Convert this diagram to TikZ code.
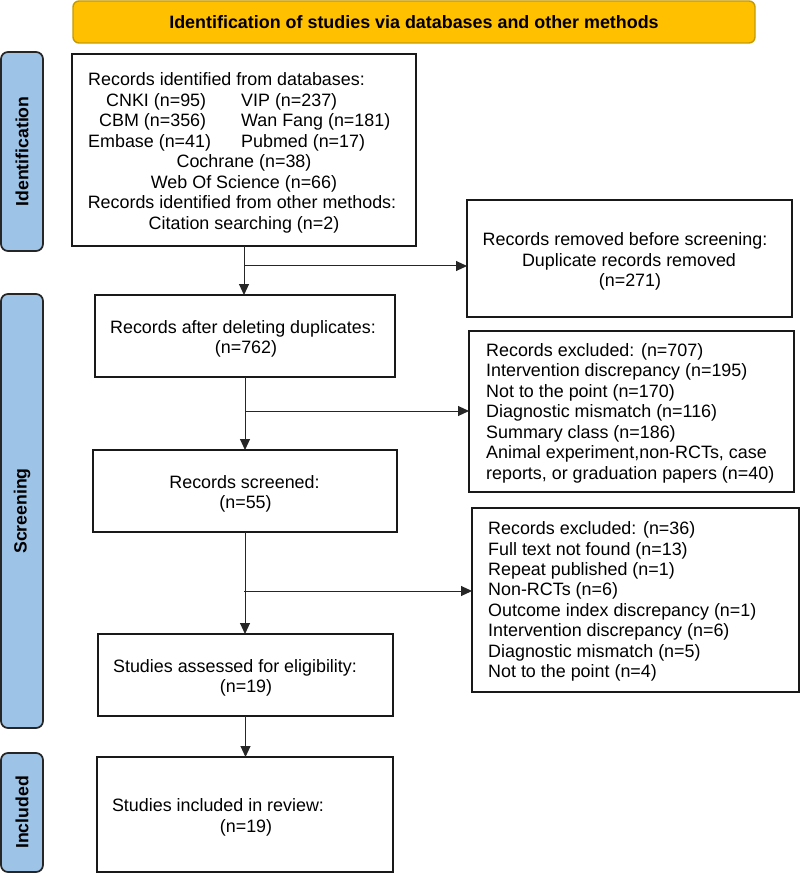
\documentclass[tikz,border=0pt]{standalone}
\usepackage{fontspec}
\setmainfont{Liberation Sans}
\usetikzlibrary{arrows.meta,calc}
\definecolor{sideblue}{HTML}{9DC3E6}
\definecolor{bannerfill}{HTML}{FFC000}
\definecolor{bannerdraw}{HTML}{C49A00}
\begin{document}
\begin{tikzpicture}[x=1pt,y=-1pt,
  box/.style={draw=black!90, line width=1.7pt, inner sep=0pt, outer sep=0pt},
  side/.style={draw=black!85, fill=sideblue, line width=1.7pt, rounded corners=7pt, inner sep=0pt, rotate=90, font=\fontsize{17.7}{20}\selectfont\bfseries},
  txt/.style={font=\fontsize{17.9}{20.5}\selectfont, inner sep=0pt, anchor=base},
  ltxt/.style={txt, anchor=base west},
  conn/.style={line width=1pt, draw=black!85, -{Triangle[length=11pt,width=10pt]}}]
\useasboundingbox (0,0) rectangle (800,874);

% banner
\node[draw=bannerdraw, fill=bannerfill, line width=1.4pt, rounded corners=6pt,
  minimum width=682pt, minimum height=42pt, inner sep=0pt,
  font=\fontsize{17.9}{20}\selectfont\bfseries] (banner) at (414,22)
  {Identification of studies via databases and other methods};

% side labels
\node[side, minimum width=199pt, minimum height=42pt] (sid) at (22,151.5) {Identification};
\node[side, minimum width=434pt, minimum height=42pt] (sscr) at (22,511) {Screening};
\node[side, minimum width=119pt, minimum height=42pt] (sinc) at (22,812.5) {Included};

% boxes
\node[box, minimum width=344pt, minimum height=192pt] (b1) at (244,150) {};
\node[box, minimum width=325pt, minimum height=117pt] (rem) at (629.5,258.5) {};
\node[box, minimum width=300pt, minimum height=82pt] (b2) at (245,336) {};
\node[box, minimum width=325pt, minimum height=161pt] (ex1) at (631.5,411.5) {};
\node[box, minimum width=304pt, minimum height=82pt] (b3) at (245,491) {};
\node[box, minimum width=327pt, minimum height=184pt] (ex2) at (635.5,600) {};
\node[box, minimum width=295pt, minimum height=82pt] (b4) at (245.5,675) {};
\node[box, minimum width=296pt, minimum height=115pt] (b5) at (245,814.5) {};

% box 1 text
\node[ltxt] (t1a) at (88,86) {Records identified from databases:};
\node[ltxt] (t1b) at (106,106.5) {CNKI (n=95)};
\node[ltxt] (t1c) at (241,106.5) {VIP (n=237)};
\node[ltxt] (t1d) at (99,127) {CBM (n=356)};
\node[ltxt] (t1e) at (241,127) {Wan Fang (n=181)};
\node[ltxt] (t1f) at (88,147.5) {Embase (n=41)};
\node[ltxt] (t1g) at (241,147.5) {Pubmed (n=17)};
\node[txt] (t1h) at (244,168) {Cochrane (n=38)};
\node[txt] (t1i) at (244,188.5) {Web Of Science (n=66)};
\node[txt] (t1j) at (242,209) {Records identified from other methods:};
\node[txt] (t1k) at (244,229.5) {Citation searching (n=2)};

% removed text
\node[txt] (tra) at (625,246) {Records removed before screening:};
\node[txt] (trb) at (629,266.5) {Duplicate records removed};
\node[txt] (trc) at (630,287) {(n=271)};

% box 2, 3 text
\node[txt] (t2a) at (243,333) {Records after deleting duplicates:};
\node[txt] (t2b) at (246,353.5) {(n=762)};
\node[txt] (t3a) at (244.5,488) {Records screened:};
\node[txt] (t3b) at (245.5,508.5) {(n=55)};

% excluded 1
\node[ltxt] (e1a) at (486,356) {Records excluded: (n=707)};
\node[ltxt] (e1b) at (486,376.5) {Intervention discrepancy (n=195)};
\node[ltxt] (e1c) at (486,397) {Not to the point (n=170)};
\node[ltxt] (e1d) at (486,417.5) {Diagnostic mismatch (n=116)};
\node[ltxt] (e1e) at (486,438) {Summary class (n=186)};
\node[ltxt] (e1f) at (486,458.5) {Animal experiment,non-RCTs, case};
\node[ltxt] (e1g) at (486,479) {reports, or graduation papers (n=40)};

% excluded 2
\node[ltxt] (e2a) at (488,534.5) {Records excluded: (n=36)};
\node[ltxt] (e2b) at (488,555) {Full text not found (n=13)};
\node[ltxt] (e2c) at (488,575.4) {Repeat published (n=1)};
\node[ltxt] (e2d) at (488,595.8) {Non-RCTs (n=6)};
\node[ltxt] (e2e) at (488,616.2) {Outcome index discrepancy (n=1)};
\node[ltxt] (e2f) at (488,636.6) {Intervention discrepancy (n=6)};
\node[ltxt] (e2g) at (488,657) {Diagnostic mismatch (n=5)};
\node[ltxt] (e2h) at (488,677.4) {Not to the point (n=4)};

% box 4, 5 text
\node[txt] (t4a) at (235,672) {Studies assessed for eligibility:};
\node[txt] (t4b) at (246,692.5) {(n=19)};
\node[txt] (t5a) at (218,811) {Studies included in review:};
\node[txt] (t5b) at (246,832) {(n=19)};

% connectors
\coordinate (j1) at (244,266);
\coordinate (j2) at (245,411);
\coordinate (j3) at (244,591);
\draw[conn] (b1.south) -- (b1.south |- b2.north);
\draw[conn] (j1) -- (j1 -| rem.west);
\draw[conn] (b2.south) -- (b2.south |- b3.north);
\draw[conn] (j2) -- (j2 -| ex1.west);
\draw[conn] (b3.south) -- (b3.south |- b4.north);
\draw[conn] (j3) -- (j3 -| ex2.west);
\draw[conn] (b4.south) -- (b4.south |- b5.north);
\end{tikzpicture}
\end{document}
